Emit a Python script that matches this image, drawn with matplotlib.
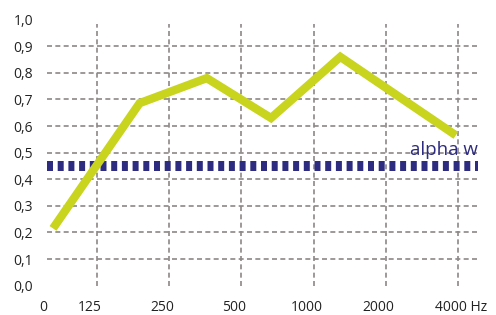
import matplotlib
matplotlib.use('Agg')
import matplotlib.pyplot as plt
import matplotlib.transforms as mtransforms

# octave band labels (positions 1..6), the "0" sits left of the first band
band_labels = ['125', '250', '500', '1000', '2000', '4000 Hz']
y_ticks = [0.0, 0.1, 0.2, 0.3, 0.4, 0.5, 0.6, 0.7, 0.8, 0.9, 1.0]
y_labels = ['0,0', '0,1', '0,2', '0,3', '0,4', '0,5', '0,6', '0,7', '0,8', '0,9', '1,0']

# absorption curve, x in octave-band units
curve_x = [0.39, 1.59, 2.52, 3.41, 4.37, 5.97]
curve_y = [0.215, 0.686, 0.78, 0.63, 0.86, 0.565]

alpha_w = 0.45

grid_col = '#8c8888'
curve_col = '#c8d41e'
navy = '#2e2c80'

plt.rcParams['font.family'] = ['Open Sans', 'DejaVu Sans']

fig = plt.figure(figsize=(4.96, 3.15), dpi=100)
ax = fig.add_axes([0.0948, 0.0933, 0.8689, 0.8444])
x0, x1 = 0.307, 6.277
ax.set_xlim(x0, x1)
ax.set_ylim(0, 1.0)

band_pos = list(range(1, len(band_labels) + 1))

# grid, drawn by hand so the 0 and 1 rows stay empty
ax.hlines(y_ticks[1:-1], x0, x1, colors=grid_col, linewidth=1.2,
          linestyles=(0, (3, 2)), zorder=1)
ax.vlines(band_pos, 0, 0.983, colors=grid_col, linewidth=1.2,
          linestyles=(0, (3, 2)), zorder=1)

# alpha_w as a fat dotted bar
ax.hlines(alpha_w, x0, x1, colors=navy, linewidth=7.2,
          linestyles=(0, (0.6, 0.47)), zorder=2)
ax.text(x1, 0.49, 'alpha w', color=navy, fontsize=13.5,
        ha='right', va='baseline', zorder=4)

ax.plot(curve_x, curve_y, color=curve_col, linewidth=6,
        solid_joinstyle='miter', solid_capstyle='butt', zorder=3)

for s in ax.spines.values():
    s.set_visible(False)

ax.set_yticks(y_ticks)
ax.set_yticklabels(y_labels, fontsize=10, color='#222222')
ax.set_xticks([0.35] + band_pos)
ax.set_xticklabels(['0'] + band_labels, fontsize=10, color='#222222')
ax.tick_params(axis='both', length=0)
ax.tick_params(axis='y', pad=10)
ax.tick_params(axis='x', pad=10.5)

fig.canvas.draw()
labels = ax.get_xticklabels()
shift = mtransforms.ScaledTranslation(-7 / 100, 0, fig.dpi_scale_trans)
for lab in labels[:-1]:
    lab.set_transform(lab.get_transform() + shift)
labels[-1].set_ha('left')
labels[-1].set_transform(labels[-1].get_transform()
                         + mtransforms.ScaledTranslation(-23 / 100, 0, fig.dpi_scale_trans))

fig.savefig('out.png', dpi=100)
